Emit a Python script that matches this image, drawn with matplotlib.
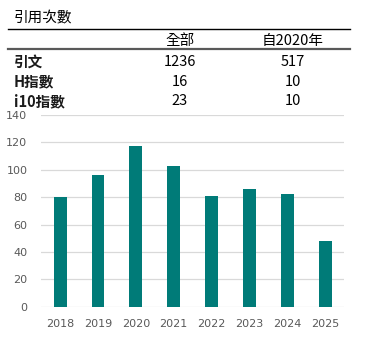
import matplotlib
matplotlib.use('Agg')
from matplotlib import pyplot as plt
from matplotlib.lines import Line2D

plt.rcParams['font.family'] = ['Noto Sans CJK TC', 'DejaVu Sans']

years = ['2018', '2019', '2020', '2021', '2022', '2023', '2024', '2025']
citations = [80, 96, 117, 103, 81, 86, 82, 48]

table_title = '引用次數'
col_headers = ['全部', '自2020年']
row_labels = ['引文', 'H指數', 'i10指數']
all_vals = ['1236', '16', '23']
since_vals = ['517', '10', '10']

W, H = 368, 351
fig = plt.figure(figsize=(W / 100, H / 100), dpi=100)

def fx(px):
    return px / W

def fy(py):
    return 1 - py / H

# table above the chart
fig.text(fx(14), fy(18), table_title, fontsize=10.5, va='center', ha='left', color='black')
fig.add_artist(Line2D([fx(8), fx(350)], [fy(28.5), fy(28.5)], color='black', lw=1.0))
fig.text(fx(180), fy(41), col_headers[0], fontsize=10.5, va='center', ha='center')
fig.text(fx(293), fy(41), col_headers[1], fontsize=10.5, va='center', ha='center')
fig.add_artist(Line2D([fx(8), fx(350)], [fy(48.8), fy(48.8)], color='#595959', lw=1.6))

row_y = [62, 81.5, 101]
for lab, a, s, y in zip(row_labels, all_vals, since_vals, row_y):
    fig.text(fx(14), fy(y), lab, fontsize=10.5, va='center', ha='left', fontweight='bold', color='#1a1a1a')
    fig.text(fx(180), fy(y), a, fontsize=10.5, va='center', ha='center')
    fig.text(fx(293), fy(y), s, fontsize=10.5, va='center', ha='center')

# bar chart
ax = fig.add_axes([fx(41.3), fy(306.7), fx(344) - fx(41.3), fy(115) - fy(306.7)])
x = range(len(years))
ax.bar(x, citations, width=0.34, color='#007B78', zorder=3)
ax.set_xlim(-0.5, len(years) - 0.5)
ax.set_ylim(0, 140)
ax.set_yticks(range(0, 141, 20))
ax.set_xticks(list(x))
ax.set_xticklabels(years)
ax.grid(axis='y', color='#d9d9d9', lw=0.9, zorder=0)
for sp in ax.spines.values():
    sp.set_visible(False)
ax.tick_params(axis='both', length=0, labelsize=8, colors='#595959')
ax.tick_params(axis='y', pad=10)
ax.tick_params(axis='x', pad=9)
for lbl in ax.get_xticklabels() + ax.get_yticklabels():
    lbl.set_family(['DejaVu Sans'])

fig.savefig('out.png', dpi=100)
